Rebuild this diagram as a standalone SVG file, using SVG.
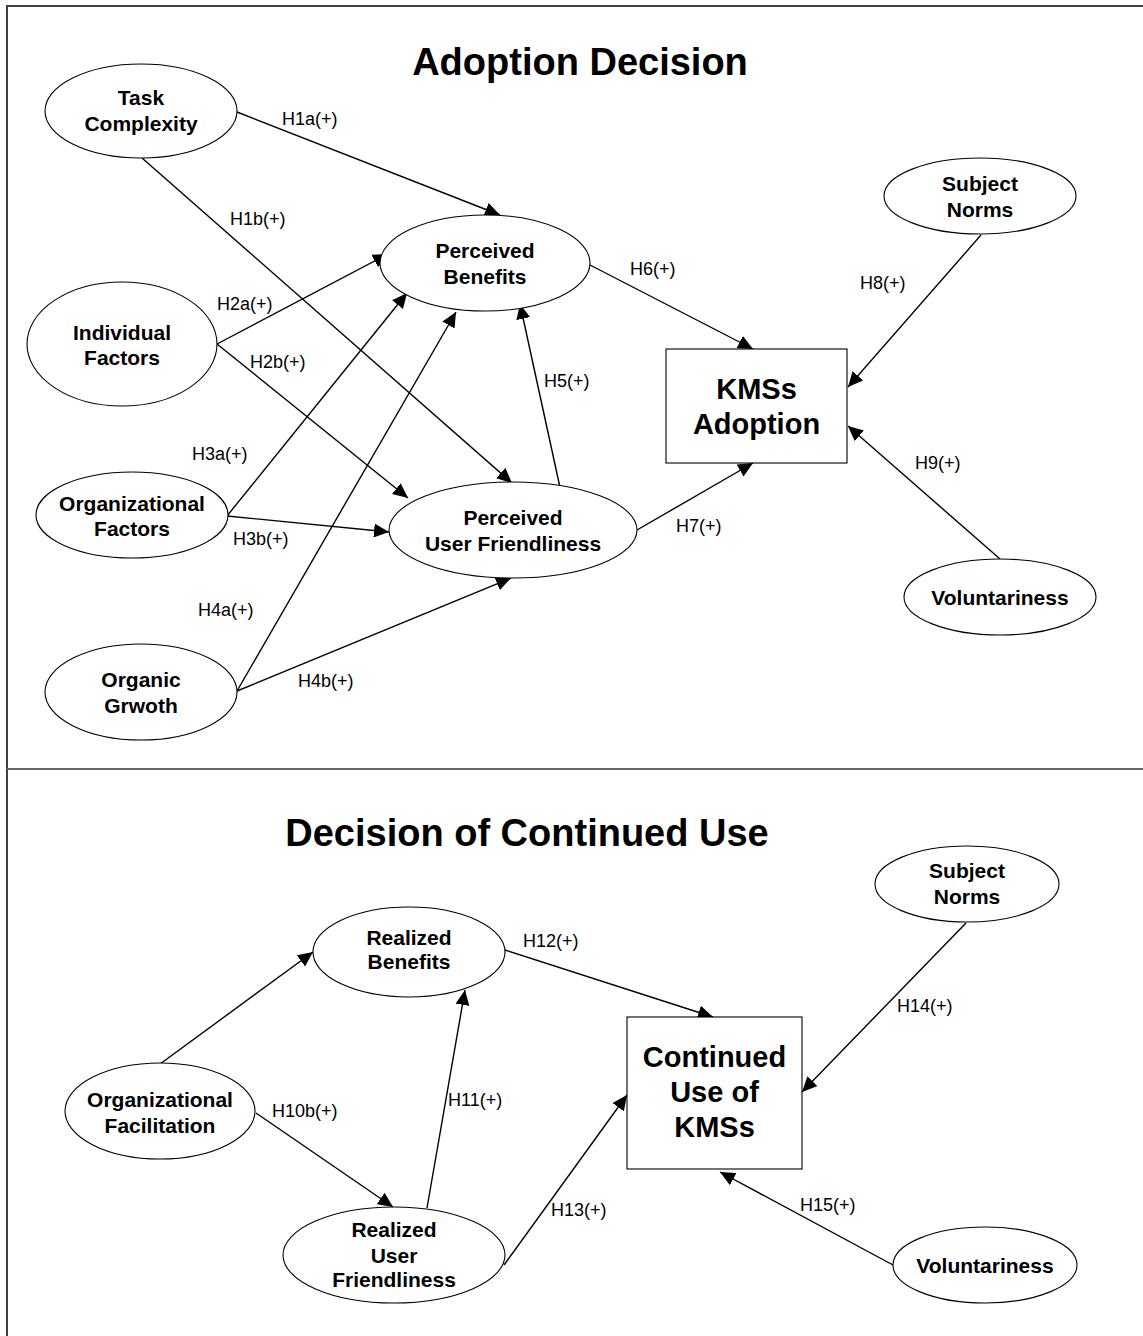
<svg xmlns="http://www.w3.org/2000/svg" width="1143" height="1336" viewBox="0 0 1143 1336">
<style>
.bg{fill:#fff}
.frame{stroke:#404040;stroke-width:2;fill:none}
.sep{stroke:#666;stroke-width:2;fill:none}
.node{fill:#fff;stroke:#000;stroke-width:1.1}
.nt{font-family:"Liberation Sans",Arial,sans-serif;font-weight:bold;font-size:21px;text-anchor:middle;fill:#000}
.bt{font-family:"Liberation Sans",Arial,sans-serif;font-weight:bold;font-size:29px;text-anchor:middle;fill:#000}
.title{font-family:"Liberation Sans",Arial,sans-serif;font-weight:bold;font-size:38px;text-anchor:middle;fill:#000}
.lbl{font-family:"Liberation Sans",Arial,sans-serif;font-size:18px;fill:#000}
.edge{stroke:#000;stroke-width:1.4;fill:none;marker-end:url(#arr)}
</style>
<defs>
<marker id="arr" markerUnits="userSpaceOnUse" markerWidth="15" markerHeight="14" refX="15" refY="7" orient="auto">
<path d="M0,0 L15,7 L0,14 Z" fill="#000"/>
</marker>
</defs>
<rect class="bg" x="0" y="0" width="1143" height="1336"/>
<g id="frame">
<path class="frame" d="M1143,6 H7 V1336"/>
<path class="sep" d="M7,769 H1143"/>
</g>
<text class="title" x="580" y="75">Adoption Decision</text>
<text class="title" x="527" y="846">Decision of Continued Use</text>

<g id="connectors">
<line class="edge" x1="237" y1="112" x2="500" y2="215"/>
<line class="edge" x1="142" y1="158" x2="512" y2="483"/>
<line class="edge" x1="217" y1="344" x2="388" y2="254"/>
<line class="edge" x1="217" y1="344" x2="408" y2="498"/>
<line class="edge" x1="227" y1="516" x2="407" y2="293"/>
<line class="edge" x1="227" y1="516" x2="389" y2="532"/>
<line class="edge" x1="237" y1="691" x2="456" y2="312"/>
<line class="edge" x1="237" y1="691" x2="511" y2="578"/>
<line class="edge" x1="561" y1="492" x2="520" y2="304"/>
<line class="edge" x1="590" y1="265" x2="753" y2="349"/>
<line class="edge" x1="637" y1="530" x2="753" y2="463"/>
<line class="edge" x1="981" y1="235" x2="848" y2="387"/>
<line class="edge" x1="1000" y1="559" x2="848" y2="426"/>
<line class="edge" x1="160" y1="1064" x2="313" y2="952"/>
<line class="edge" x1="256" y1="1113" x2="393" y2="1207"/>
<line class="edge" x1="427" y1="1208" x2="465" y2="990"/>
<line class="edge" x1="505" y1="950" x2="713" y2="1017"/>
<line class="edge" x1="504" y1="1265" x2="627" y2="1095"/>
<line class="edge" x1="966" y1="923" x2="802" y2="1092"/>
<line class="edge" x1="893" y1="1265" x2="720" y2="1172"/>
</g>

<g id="labels">
<text class="lbl" x="282" y="125">H1a(+)</text>
<text class="lbl" x="230" y="225">H1b(+)</text>
<text class="lbl" x="217" y="310">H2a(+)</text>
<text class="lbl" x="250" y="368">H2b(+)</text>
<text class="lbl" x="192" y="460">H3a(+)</text>
<text class="lbl" x="233" y="545">H3b(+)</text>
<text class="lbl" x="198" y="616">H4a(+)</text>
<text class="lbl" x="298" y="687">H4b(+)</text>
<text class="lbl" x="544" y="387">H5(+)</text>
<text class="lbl" x="630" y="275">H6(+)</text>
<text class="lbl" x="676" y="532">H7(+)</text>
<text class="lbl" x="860" y="289">H8(+)</text>
<text class="lbl" x="915" y="469">H9(+)</text>
<text class="lbl" x="272" y="1117">H10b(+)</text>
<text class="lbl" x="448" y="1106">H11(+)</text>
<text class="lbl" x="523" y="947">H12(+)</text>
<text class="lbl" x="551" y="1216">H13(+)</text>
<text class="lbl" x="897" y="1012">H14(+)</text>
<text class="lbl" x="800" y="1211">H15(+)</text>
</g>

<g id="task-complexity">
<ellipse class="node" cx="141" cy="111" rx="96" ry="47"/>
<text class="nt" x="141" y="104.5">Task</text>
<text class="nt" x="141" y="130.5">Complexity</text>
</g>
<g id="individual-factors">
<ellipse class="node" cx="122" cy="344" rx="95" ry="62"/>
<text class="nt" x="122" y="339.5">Individual</text>
<text class="nt" x="122" y="364.5">Factors</text>
</g>
<g id="organizational-factors">
<ellipse class="node" cx="132" cy="515" rx="96" ry="43"/>
<text class="nt" x="132" y="510.5">Organizational</text>
<text class="nt" x="132" y="535.5">Factors</text>
</g>
<g id="organic-growth">
<ellipse class="node" cx="141" cy="692" rx="96" ry="48"/>
<text class="nt" x="141" y="686.5">Organic</text>
<text class="nt" x="141" y="712.5">Grwoth</text>
</g>
<g id="perceived-benefits">
<ellipse class="node" cx="485" cy="263" rx="105" ry="48"/>
<text class="nt" x="485" y="257.5">Perceived</text>
<text class="nt" x="485" y="283.5">Benefits</text>
</g>
<g id="perceived-user-friendliness">
<ellipse class="node" cx="513" cy="530" rx="124" ry="48"/>
<text class="nt" x="513" y="524.5">Perceived</text>
<text class="nt" x="513" y="550.5">User Friendliness</text>
</g>
<g id="kmss-adoption">
<rect class="node" x="666" y="349" width="181" height="114"/>
<text class="bt" x="756.5" y="398.5">KMSs</text>
<text class="bt" x="756.5" y="433.5">Adoption</text>
</g>
<g id="subject-norms-1">
<ellipse class="node" cx="980" cy="196" rx="96" ry="38"/>
<text class="nt" x="980" y="190.5">Subject</text>
<text class="nt" x="980" y="216.5">Norms</text>
</g>
<g id="voluntariness-1">
<ellipse class="node" cx="1000" cy="597" rx="96" ry="38"/>
<text class="nt" x="1000" y="604.5">Voluntariness</text>
</g>

<g id="organizational-facilitation">
<ellipse class="node" cx="160" cy="1111" rx="95" ry="48"/>
<text class="nt" x="160" y="1106.5">Organizational</text>
<text class="nt" x="160" y="1132.5">Facilitation</text>
</g>
<g id="realized-benefits">
<ellipse class="node" cx="409" cy="952" rx="96" ry="45"/>
<text class="nt" x="409" y="944.5">Realized</text>
<text class="nt" x="409" y="968.5">Benefits</text>
</g>
<g id="realized-user-friendliness">
<ellipse class="node" cx="394" cy="1255" rx="111" ry="48"/>
<text class="nt" x="394" y="1236.5">Realized</text>
<text class="nt" x="394" y="1262.5">User</text>
<text class="nt" x="394" y="1286.5">Friendliness</text>
</g>
<g id="continued-use">
<rect class="node" x="627" y="1017" width="175" height="152"/>
<text class="bt" x="714.5" y="1067">Continued</text>
<text class="bt" x="714.5" y="1102">Use of</text>
<text class="bt" x="714.5" y="1137">KMSs</text>
</g>
<g id="subject-norms-2">
<ellipse class="node" cx="967" cy="884" rx="92" ry="38"/>
<text class="nt" x="967" y="877.5">Subject</text>
<text class="nt" x="967" y="903.5">Norms</text>
</g>
<g id="voluntariness-2">
<ellipse class="node" cx="985" cy="1265" rx="92" ry="38"/>
<text class="nt" x="985" y="1272.5">Voluntariness</text>
</g>
</svg>
